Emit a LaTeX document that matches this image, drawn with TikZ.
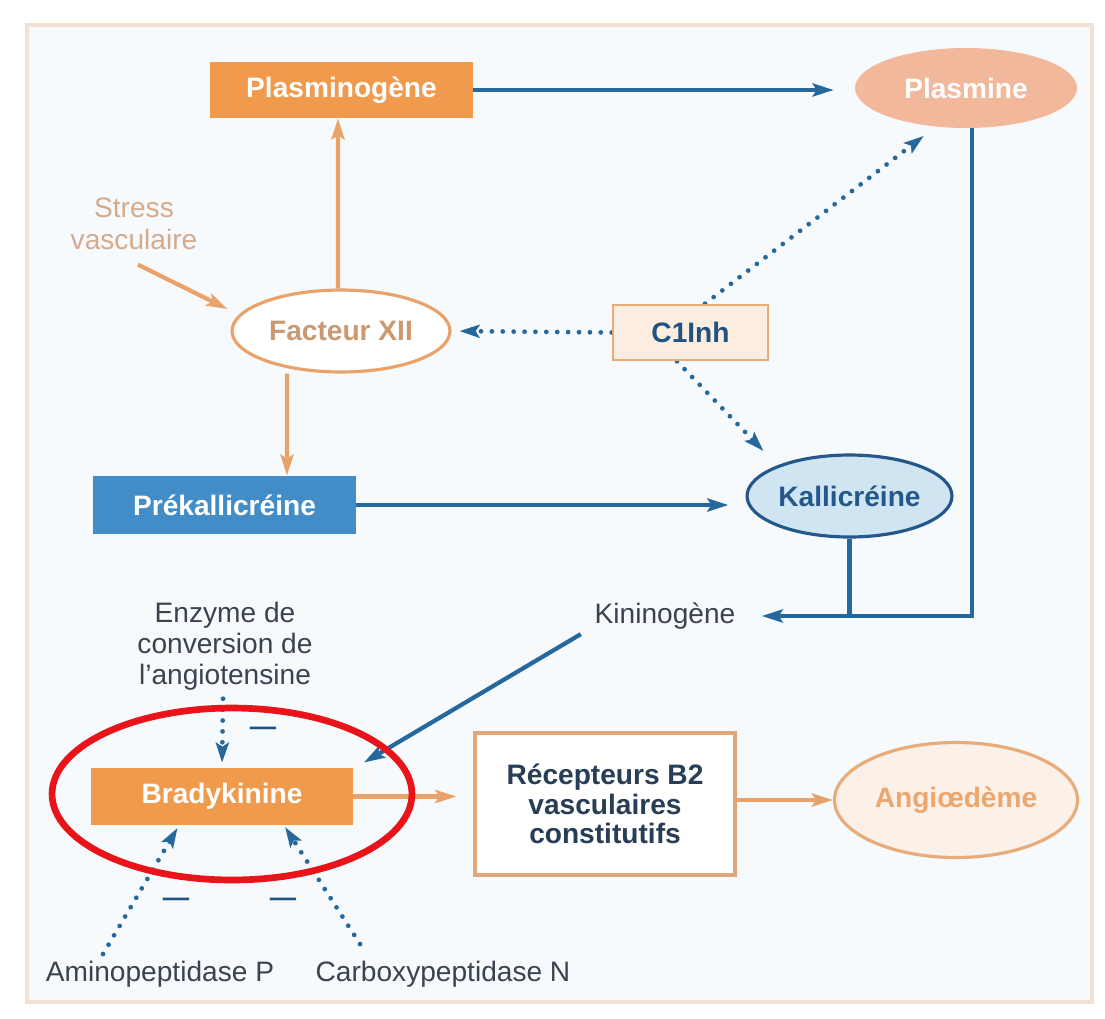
\documentclass[tikz,border=0pt]{standalone}
\usepackage{fontspec}
\setmainfont{Liberation Sans}
\usetikzlibrary{arrows.meta,shapes.geometric}
\definecolor{framec}{RGB}{240,226,212}
\definecolor{bgc}{RGB}{246,250,252}
\definecolor{orfill}{RGB}{239,154,76}
\definecolor{salmon}{RGB}{242,184,156}
\definecolor{bline}{RGB}{38,103,156}
\definecolor{bfill}{RGB}{66,141,200}
\definecolor{kfill}{RGB}{207,229,241}
\definecolor{kdraw}{RGB}{36,88,138}
\definecolor{oline}{RGB}{233,163,106}
\definecolor{tan}{RGB}{203,152,112}
\definecolor{stressc}{RGB}{214,170,140}
\definecolor{cfill}{RGB}{251,237,224}
\definecolor{cdraw}{RGB}{231,172,122}
\definecolor{ctext}{RGB}{34,82,128}
\definecolor{gtext}{RGB}{58,68,80}
\definecolor{afill}{RGB}{251,241,232}
\definecolor{atext}{RGB}{236,166,110}
\definecolor{rdraw}{RGB}{222,168,124}
\definecolor{rtext}{RGB}{40,62,86}
\definecolor{redmark}{RGB}{232,20,26}
\pgfdeclarelayer{back}
\pgfdeclarelayer{bg}
\pgfsetlayers{back,bg,main}
\begin{document}
\begin{tikzpicture}[x=0.02cm,y=-0.02cm,
  every node/.style={font=\fontsize{16}{19}\selectfont, inner sep=2pt},
  obox/.style={rectangle, fill=orfill, text=white, font=\fontsize{16}{19}\selectfont\bfseries},
  bbox/.style={rectangle, fill=bfill, text=white, font=\fontsize{16}{19}\selectfont\bfseries},
  ell/.style={ellipse, inner sep=0pt},
  plain/.style={text=gtext, align=center},
  minus/.style={text=ctext, font=\fontsize{15}{18}\selectfont\bfseries},
  bluearrow/.style={draw=bline, line width=2.4pt, -{Stealth[length=0.42cm,width=0.26cm,inset=0.08cm]}},
  blueline/.style={draw=bline, line width=2.4pt},
  orarrow/.style={draw=oline, line width=2.4pt, -{Stealth[length=0.42cm,width=0.26cm,inset=0.08cm]}},
  dotarrow/.style={draw=bline, line width=2.7pt, line cap=round, dash pattern=on 0pt off 6.2pt, -{Stealth[length=0.4cm,width=0.26cm,inset=0.08cm]}},
]
\useasboundingbox (0,0) rectangle (1105,1018);
\begin{pgfonlayer}{back}
\fill[white] (0,0) rectangle (1105,1018);
\draw[framec, fill=bgc, line width=2pt] (27,25) rectangle (1092,1002);
\end{pgfonlayer}

% nodes
\node[obox, minimum width=5.26cm, minimum height=1.12cm] (plg) at (341.5,90) {Plasminogène};
\node[ell, fill=salmon, text=white, font=\fontsize{16}{19}\selectfont\bfseries, minimum width=4.44cm, minimum height=1.6cm] (pls) at (966,88) {Plasmine};
\node[text=stressc, align=center, font=\fontsize{16}{18}\selectfont] (stress) at (134,224) {Stress\\vasculaire};
\node[ell, draw=oline, line width=1.8pt, fill=white, text=tan, font=\fontsize{16}{19}\selectfont\bfseries, minimum width=4.36cm, minimum height=1.64cm] (f12) at (341,331) {Facteur XII};
\node[rectangle, draw=cdraw, line width=1.5pt, fill=cfill, text=ctext, font=\fontsize{16}{19}\selectfont\bfseries, minimum width=3.1cm, minimum height=1.1cm] (c1) at (690.5,332.5) {C1Inh};
\node[bbox, minimum width=5.26cm, minimum height=1.16cm] (prek) at (224.5,505) {Prékallicréine};
\node[ell, draw=kdraw, line width=1.8pt, fill=kfill, text=kdraw, font=\fontsize{16}{19}\selectfont\bfseries, minimum width=4.1cm, minimum height=1.64cm] (kall) at (849.5,496) {Kallicréine};
\node[plain] (kin) at (665,616) {Kininogène};
\node[plain, font=\fontsize{16}{17.5}\selectfont] (enz) at (225,646) {Enzyme de\\conversion de\\l'angiotensine};
\node[obox, minimum width=5.24cm, minimum height=1.14cm] (brady) at (222,796.5) {Bradykinine};
\node[rectangle, draw=rdraw, line width=1.8pt, fill=white, text=rtext, align=center, font=\fontsize{16}{16.8}\selectfont\bfseries, minimum width=5.2cm, minimum height=2.84cm] (rec) at (605,804) {Récepteurs B2\\vasculaires\\constitutifs};
\node[ell, draw=cdraw, line width=1.8pt, fill=afill, text=atext, font=\fontsize{16}{19}\selectfont\bfseries, minimum width=4.86cm, minimum height=2.3cm] (angio) at (956,800) {Angiœdème};
\node[plain] (amino) at (160,974) {Aminopeptidase P};
\node[plain] (carb) at (443,974) {Carboxypeptidase N};
\node[minus] (m1) at (263,731) {—};
\node[minus] (m2) at (176,902) {—};
\node[minus] (m3) at (283,902) {—};

% connectors
\begin{pgfonlayer}{bg}
\draw[bluearrow, shorten >=0.42cm] (plg.east) -- (plg.east -| pls.west);
\draw[orarrow] ([xshift=-0.06cm]f12.north) -- ([xshift=-0.07cm]plg.south);
\draw[orarrow] ([xshift=-1.08cm]f12.south) -- ([xshift=1.25cm]prek.north);
\draw[orarrow] ([xshift=0.08cm,yshift=-0.22cm]stress.south) -- ([xshift=-0.06cm,yshift=0.44cm]f12.west);
\draw[dotarrow, shorten >=0.16cm] (c1.west) -- (f12.east);
\draw[dotarrow, shorten >=0.3cm] ([xshift=0.29cm]c1.north) -- (pls.232);
\draw[dotarrow, shorten >=0.4cm] ([xshift=-0.27cm]c1.south) -- (kall.157);
\draw[bluearrow, shorten >=0.34cm] (prek.east) -- (prek.east -| kall.west);
\draw[bluearrow, shorten >=0.45cm] ([xshift=0.12cm]pls.south) |- (kin.east);
\draw[blueline] (kall.south) -- (kall.south |- kin.east);
\draw[bluearrow, shorten >=0.2cm] ([xshift=-0.2cm,yshift=-0.02cm]kin.south west) -- ([xshift=0.04cm]brady.north east);
\draw[dotarrow, shorten >=0.1cm] ([xshift=-0.04cm,yshift=-0.1cm]enz.south) -- (brady.north);
\draw[orarrow, shorten >=0.34cm] (brady.east) -- (brady.east -| rec.west);
\draw[orarrow] (rec.east |- angio.west) -- (angio.west);
\draw[dotarrow, shorten >=0.06cm] ([xshift=-1.14cm,yshift=0.06cm]amino.north) -- ([xshift=-0.86cm]brady.south);
\draw[dotarrow, shorten >=0.04cm] ([xshift=-1.66cm,yshift=0.26cm]carb.north) -- ([xshift=1.24cm]brady.south);
\end{pgfonlayer}

% annotation
\draw[redmark, line width=3.8pt] (232,794) ellipse [x radius=3.6cm, y radius=1.72cm];
\end{tikzpicture}
\end{document}
